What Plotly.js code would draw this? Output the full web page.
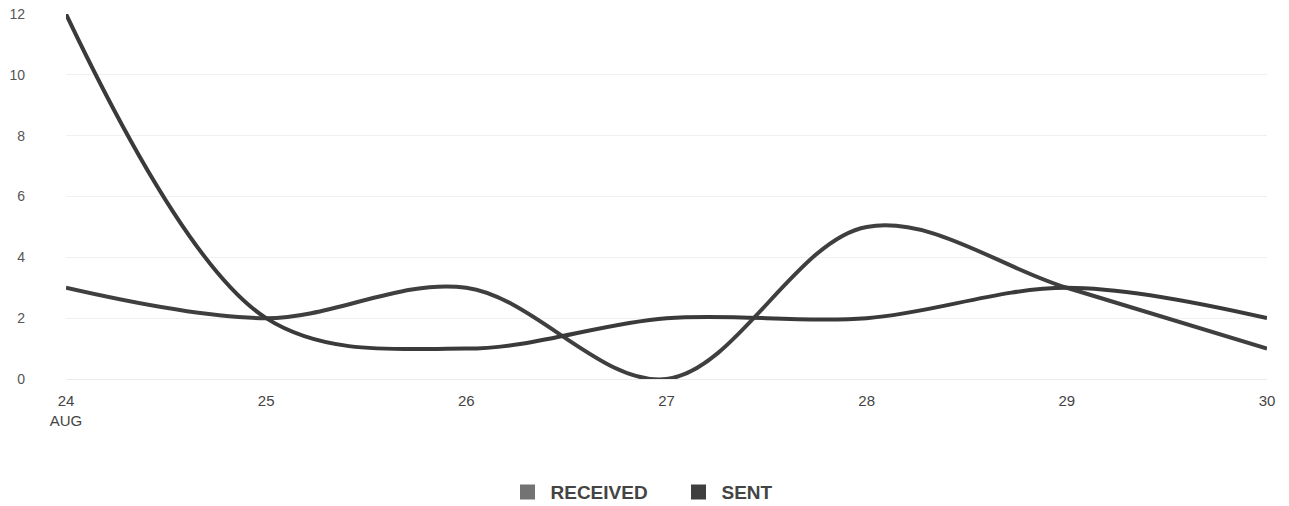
<!DOCTYPE html>
<html>
<head>
<meta charset="utf-8">
<script src="https://cdn.plot.ly/plotly-3.0.1.min.js"></script>
<style>html,body{margin:0;padding:0;background:#fff;}#chart{width:1289px;height:506px;}</style>
</head>
<body>
<div id="chart"></div>
<script>
const days = [24, 25, 26, 27, 28, 29, 30];
const dayLabels = ["24<br>AUG", "25", "26", "27", "28", "29", "30"];
const received = [3, 2, 3, 0, 5, 3, 1];
const sent = [12, 2, 1, 2, 2, 3, 2];
const yTicks = [0, 2, 4, 6, 8, 10, 12];

const lineStyle = {shape: 'spline', smoothing: 1, width: 4};
const traces = [
  {x: days, y: received, mode: 'lines', name: 'RECEIVED', showlegend: false,
   line: Object.assign({color: '#3f3f3f'}, lineStyle), hoverinfo: 'x+y'},
  {x: days, y: sent, mode: 'lines', name: 'SENT', showlegend: false,
   line: Object.assign({color: '#3a3a3a'}, lineStyle), hoverinfo: 'x+y'},
  {x: [null], y: [null], mode: 'markers', name: 'RECEIVED',
   marker: {symbol: 'square', size: 15, color: '#737373'}},
  {x: [null], y: [null], mode: 'markers', name: 'SENT',
   marker: {symbol: 'square', size: 15, color: '#3f3f3f'}}
];

const layout = {
  width: 1289, height: 506,
  margin: {l: 66, r: 22, t: 14, b: 127, autoexpand: false},
  paper_bgcolor: '#ffffff', plot_bgcolor: '#ffffff',
  font: {family: 'Liberation Sans, Arial, sans-serif', color: '#555555', size: 13},
  xaxis: {
    range: [24, 30], tickvals: days, ticktext: dayLabels, automargin: false,
    showgrid: false, zeroline: false, showline: false, ticks: '',
    tickfont: {size: 15, color: '#444444'}, ticklabelstandoff: 11, fixedrange: true
  },
  yaxis: {
    range: [0, 12], tickvals: yTicks, showgrid: true, gridcolor: '#f0f0f0', gridwidth: 1,
    automargin: false,
    zeroline: true, zerolinecolor: '#ececec', zerolinewidth: 1, showline: false, ticks: '',
    tickfont: {size: 14, color: '#555555'}, ticklabelstandoff: 40, fixedrange: true
  },
  showlegend: true,
  legend: {orientation: 'h', x: 0.5075, xanchor: 'center', y: -0.31, yanchor: 'middle',
    font: {size: 19, color: '#444444', family: 'Liberation Sans, Arial, sans-serif', weight: 'bold'},
    itemwidth: 36, entrywidth: 120, entrywidthmode: 'pixels', traceorder: 'normal'}
};

Plotly.newPlot('chart', traces, layout, {displayModeBar: false, staticPlot: true});
</script>
</body>
</html>
